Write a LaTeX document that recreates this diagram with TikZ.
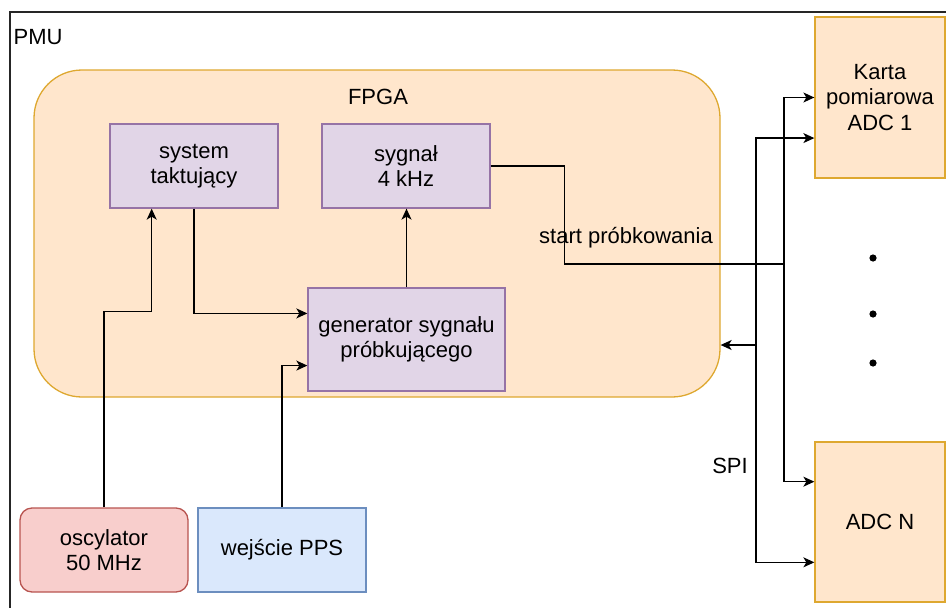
\documentclass[tikz,border=0pt]{standalone}
\usepackage{fontspec}
\setmainfont{Liberation Sans}
\usetikzlibrary{arrows.meta,calc}
\definecolor{goldline}{RGB}{222,168,48}
\definecolor{peach}{HTML}{FFE6CC}
\definecolor{lilacline}{HTML}{9673A6}
\definecolor{lilac}{HTML}{E1D5E7}
\definecolor{redline}{HTML}{B85450}
\definecolor{rosy}{HTML}{F8CECC}
\definecolor{blueline}{HTML}{6C8EBF}
\definecolor{skyfill}{HTML}{DAE8FC}
\begin{document}
\begin{tikzpicture}[x=1pt,y=-1pt,
  font=\fontsize{22}{25.5}\selectfont,
  line width=1.3pt,
  block/.style={draw=lilacline, fill=lilac, align=center, inner sep=0pt,
    minimum width=168pt, minimum height=84pt},
  adcbox/.style={draw=goldline, fill=peach, align=center, inner sep=0pt,
    minimum width=130pt, minimum height=160pt},
  conn/.style={draw, -{Stealth[length=11pt,width=10pt,inset=3pt]}},
  txt/.style={inner sep=0pt, align=center}]
  \clip (0,0) rectangle (946,608);
  % outer PMU frame
  \draw[black!85] (10,12) rectangle (990,660);
  \node[txt, anchor=west] (pmu) at (13,37) {PMU};
  % FPGA area
  \node[draw=goldline, fill=peach, rounded corners=48pt, minimum width=686pt,
    minimum height=327pt, inner sep=0pt] (fpga) at (377,233.5) {};
  \node[txt] (fpgalbl) at (378,97) {FPGA};
  % blocks inside the FPGA
  \node[block] (sys) at (194,166) {system\\taktujący};
  \node[block] (sig) at (406,166) {sygnał\\4 kHz};
  \node[block, minimum width=197pt, minimum height=103pt] (gen) at (406.5,339.5)
    {generator sygnału\\próbkującego};
  % external sources
  \node[draw=redline, fill=rosy, rounded corners=12pt, align=center, inner sep=0pt,
    minimum width=168pt, minimum height=84pt] (osc) at (104,550) {oscylator\\50 MHz};
  \node[draw=blueline, fill=skyfill, align=center, inner sep=0pt,
    minimum width=168pt, minimum height=84pt] (pps) at (282,550) {wejście PPS};
  % ADC cards
  \node[adcbox, minimum height=161pt] (adc1) at (880,97.5) {Karta\\pomiarowa\\ADC 1};
  \node[adcbox] (adcn) at (880,522) {ADC N};
  \foreach \yy/\nm in {258/d1,314/d2,363/d3}
    \fill (873,\yy) circle[radius=3.6pt] coordinate (\nm);
  % labels
  \node[txt] (startlbl) at (626,238) {start próbkowania};
  \node[txt] (spilbl) at (730,466) {SPI};
  % connectors
  \coordinate (tj) at (784,264);
  \coordinate (sj) at (756,345);
  \draw[conn] (osc.north) -- ++(0,-196) -| ($(sys.south west)!0.25!(sys.south east)$);
  \draw[conn] (sys.south) |- ($(gen.north west)!0.25!(gen.south west)$);
  \draw[conn] (pps.north) |- ($(gen.north west)!0.75!(gen.south west)$);
  \draw[conn] (gen.north) -- (gen.north |- sig.south);
  \draw (sig.east) -- ++(74,0) |- (tj);
  \draw[conn] (tj) |- (adc1.west);
  \draw[conn] (tj) |- ($(adcn.north west)!0.25!(adcn.south west)$);
  \draw[conn] (sj) -- (fpga.east |- sj);
  \draw[conn] (sj) |- ($(adc1.north west)!0.75!(adc1.south west)$);
  \draw[conn] (sj) |- ($(adcn.north west)!0.75!(adcn.south west)$);
\end{tikzpicture}
\end{document}
